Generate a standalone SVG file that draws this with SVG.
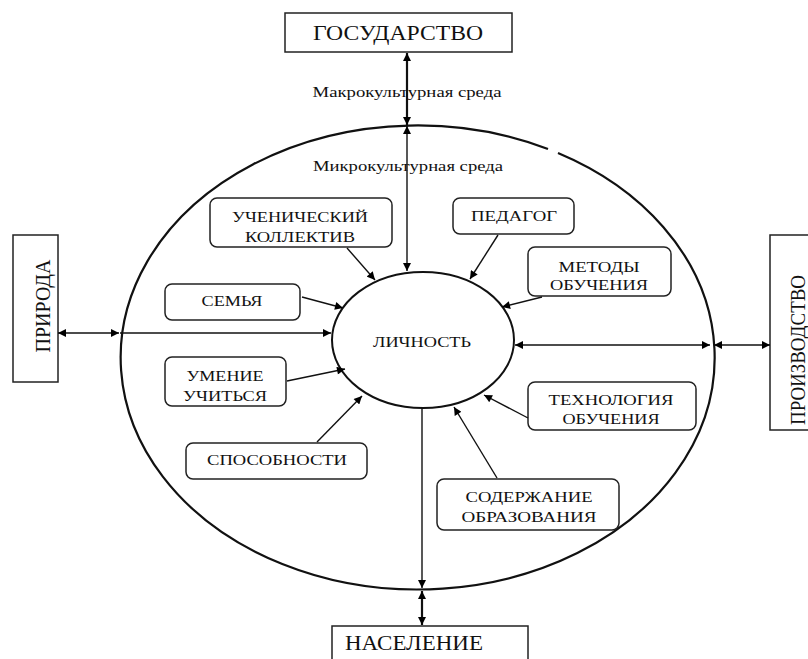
<svg xmlns="http://www.w3.org/2000/svg" width="808" height="659" viewBox="0 0 808 659">
<defs>
<marker id="ah" viewBox="0 0 10 10" refX="10" refY="5" markerWidth="9" markerHeight="8" markerUnits="userSpaceOnUse" orient="auto-start-reverse"><path d="M0,0 L10,5 L0,10 z" fill="#000"/></marker>
<style>
text{fill:#111}
.big{font-size:20px}
.sm{font-size:15px}
.env{font-size:14px}
.box{fill:#fff;stroke:#222;stroke-width:1.5}
.rbox{fill:#fff;stroke:#222;stroke-width:1.5}
.ln{stroke:#111;stroke-width:1.4;fill:none}
.thick{stroke:#111;stroke-width:2.2;fill:none}
</style>
</defs>
<rect width="808" height="659" fill="#fff"/>
<g font-family="'Liberation Serif', 'DejaVu Serif', serif">
<g id="environment">
<path d="M 558 153 A 297 232 0 1 1 548 149" fill="none" stroke="#111" stroke-width="2.2"/>
<text class="env" x="407" y="97" text-anchor="middle" textLength="189" lengthAdjust="spacingAndGlyphs">Макрокультурная среда</text>
<text class="env" x="408" y="171" text-anchor="middle" textLength="190" lengthAdjust="spacingAndGlyphs">Микрокультурная среда</text>
</g>
<g id="gosudarstvo">
<rect class="box" x="285" y="13" width="227" height="39"/>
<text class="big" x="398" y="40" text-anchor="middle" textLength="170" lengthAdjust="spacingAndGlyphs">ГОСУДАРСТВО</text>
</g>
<g id="priroda">
<rect class="box" x="13" y="235" width="45" height="147"/>
<text class="big" transform="translate(50,306) rotate(-90)" text-anchor="middle">ПРИРОДА</text>
</g>
<g id="proizvodstvo">
<rect class="box" x="770" y="235" width="50" height="195"/>
<text class="big" transform="translate(805,350) rotate(-90)" text-anchor="middle" textLength="150" lengthAdjust="spacingAndGlyphs">ПРОИЗВОДСТВО</text>
</g>
<g id="naselenie">
<rect class="box" x="332" y="626" width="196" height="45"/>
<text class="big" x="414" y="650" text-anchor="middle" textLength="138" lengthAdjust="spacingAndGlyphs">НАСЕЛЕНИЕ</text>
</g>
<g id="lichnost">
<ellipse cx="423" cy="340" rx="91" ry="68" fill="#fff" stroke="#111" stroke-width="2"/>
<text class="sm" x="422" y="347" text-anchor="middle" textLength="98" lengthAdjust="spacingAndGlyphs">ЛИЧНОСТЬ</text>
</g>
<g id="uchenicheskiy">
<rect class="rbox" x="210" y="198" width="182" height="49" rx="7"/>
<text class="sm" x="300" y="222" text-anchor="middle" textLength="136" lengthAdjust="spacingAndGlyphs">УЧЕНИЧЕСКИЙ</text>
<text class="sm" x="300" y="242" text-anchor="middle" textLength="110" lengthAdjust="spacingAndGlyphs">КОЛЛЕКТИВ</text>
</g>
<g id="semya">
<rect class="rbox" x="165" y="284" width="135" height="36" rx="7"/>
<text class="sm" x="232" y="306" text-anchor="middle" textLength="61" lengthAdjust="spacingAndGlyphs">СЕМЬЯ</text>
</g>
<g id="pedagog">
<rect class="rbox" x="453" y="198" width="121" height="36" rx="7"/>
<text class="sm" x="514" y="221" text-anchor="middle" textLength="86" lengthAdjust="spacingAndGlyphs">ПЕДАГОГ</text>
</g>
<g id="metody">
<rect class="rbox" x="528" y="247" width="143" height="49" rx="7"/>
<text class="sm" x="599" y="272" text-anchor="middle" textLength="81" lengthAdjust="spacingAndGlyphs">МЕТОДЫ</text>
<text class="sm" x="599" y="290" text-anchor="middle" textLength="98" lengthAdjust="spacingAndGlyphs">ОБУЧЕНИЯ</text>
</g>
<g id="umenie">
<rect class="rbox" x="165" y="357" width="121" height="49" rx="7"/>
<text class="sm" x="225" y="381" text-anchor="middle" textLength="77" lengthAdjust="spacingAndGlyphs">УМЕНИЕ</text>
<text class="sm" x="225" y="401" text-anchor="middle" textLength="84" lengthAdjust="spacingAndGlyphs">УЧИТЬСЯ</text>
</g>
<g id="sposobnosti">
<rect class="rbox" x="186" y="443" width="181" height="36" rx="7"/>
<text class="sm" x="277" y="465" text-anchor="middle" textLength="140" lengthAdjust="spacingAndGlyphs">СПОСОБНОСТИ</text>
</g>
<g id="tehnologiya">
<rect class="rbox" x="528" y="382" width="168" height="48" rx="7"/>
<text class="sm" x="611" y="405" text-anchor="middle" textLength="125" lengthAdjust="spacingAndGlyphs">ТЕХНОЛОГИЯ</text>
<text class="sm" x="611" y="424" text-anchor="middle" textLength="97" lengthAdjust="spacingAndGlyphs">ОБУЧЕНИЯ</text>
</g>
<g id="soderzhanie">
<rect class="rbox" x="437" y="479" width="182" height="51" rx="7"/>
<text class="sm" x="529" y="502" text-anchor="middle" textLength="127" lengthAdjust="spacingAndGlyphs">СОДЕРЖАНИЕ</text>
<text class="sm" x="529" y="522" text-anchor="middle" textLength="135" lengthAdjust="spacingAndGlyphs">ОБРАЗОВАНИЯ</text>
</g>
</g>
<g id="connectors">
<line class="thick" x1="407" y1="53" x2="407" y2="125" marker-start="url(#ah)" marker-end="url(#ah)"/>
<line class="ln" x1="407" y1="126" x2="407" y2="271" marker-start="url(#ah)" marker-end="url(#ah)"/>
<line class="ln" x1="58" y1="333" x2="119" y2="333" marker-start="url(#ah)" marker-end="url(#ah)"/>
<line class="ln" x1="120" y1="333" x2="331" y2="333" marker-end="url(#ah)"/>
<line class="ln" x1="515" y1="345" x2="710" y2="345" marker-start="url(#ah)" marker-end="url(#ah)"/>
<line class="ln" x1="714" y1="345" x2="770" y2="345" marker-start="url(#ah)" marker-end="url(#ah)"/>
<line class="ln" x1="422" y1="408" x2="422" y2="588" marker-end="url(#ah)"/>
<line class="thick" x1="422" y1="591" x2="422" y2="625" marker-start="url(#ah)" marker-end="url(#ah)"/>
<line class="ln" x1="347" y1="248" x2="375" y2="280" marker-end="url(#ah)"/>
<line class="ln" x1="302" y1="297" x2="343" y2="308" marker-end="url(#ah)"/>
<line class="ln" x1="498" y1="235" x2="470" y2="279" marker-end="url(#ah)"/>
<line class="ln" x1="542" y1="297" x2="502" y2="307" marker-end="url(#ah)"/>
<line class="ln" x1="287" y1="381" x2="345" y2="369" marker-end="url(#ah)"/>
<line class="ln" x1="317" y1="442" x2="362" y2="396" marker-end="url(#ah)"/>
<line class="ln" x1="528" y1="418" x2="484" y2="395" marker-end="url(#ah)"/>
<line class="ln" x1="497" y1="478" x2="454" y2="407" marker-end="url(#ah)"/>
</g>
</svg>
